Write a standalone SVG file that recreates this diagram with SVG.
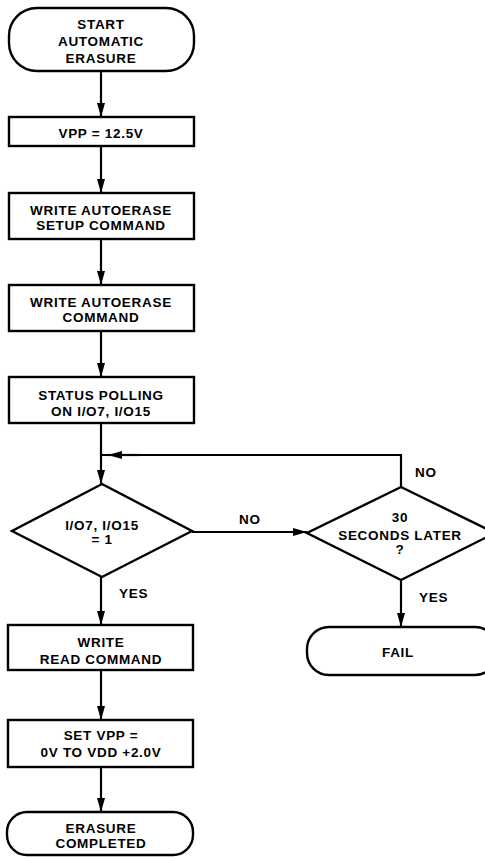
<svg xmlns="http://www.w3.org/2000/svg" width="485" height="857" viewBox="0 0 485 857">
<defs>
<style>
.s{fill:#fff;stroke:#000;stroke-width:2.4}
.c{fill:none;stroke:#000;stroke-width:2.2}
.t{font-family:"Liberation Sans",Arial,sans-serif;font-weight:bold;font-size:13.5px;letter-spacing:0.7px;fill:#000;text-anchor:middle}
.l{font-family:"Liberation Sans",Arial,sans-serif;font-weight:bold;font-size:13.5px;letter-spacing:0.7px;fill:#000}
</style>
<marker id="ah" viewBox="0 0 14 8" refX="14" refY="4" markerWidth="14" markerHeight="8" markerUnits="userSpaceOnUse" orient="auto">
<path d="M0,0 L14,4 L0,8 Z" fill="#000"/>
</marker>
</defs>
<rect width="485" height="857" fill="#fff"/>
<g id="connectors">
<line class="c" x1="101" y1="71" x2="101" y2="117" marker-end="url(#ah)"/>
<line class="c" x1="101" y1="146" x2="101" y2="193" marker-end="url(#ah)"/>
<line class="c" x1="101" y1="239" x2="101" y2="285" marker-end="url(#ah)"/>
<line class="c" x1="101" y1="331" x2="101" y2="377" marker-end="url(#ah)"/>
<line class="c" x1="101" y1="423" x2="101" y2="484" marker-end="url(#ah)"/>
<polyline class="c" points="401,487 401,455 101,455"/>
<line class="c" x1="140" y1="455" x2="108" y2="455" marker-end="url(#ah)"/>
<line class="c" x1="192" y1="532" x2="307" y2="532" marker-end="url(#ah)"/>
<line class="c" x1="101" y1="577" x2="101" y2="625" marker-end="url(#ah)"/>
<line class="c" x1="401" y1="580" x2="401" y2="627" marker-end="url(#ah)"/>
<line class="c" x1="101" y1="670" x2="101" y2="720" marker-end="url(#ah)"/>
<line class="c" x1="101" y1="767" x2="101" y2="812" marker-end="url(#ah)"/>
<text class="l" x="415" y="477">NO</text>
<text class="l" x="239" y="524">NO</text>
<text class="l" x="119" y="598">YES</text>
<text class="l" x="419" y="602">YES</text>
</g>
<g id="start">
<rect class="s" x="9" y="8" width="185" height="63" rx="28" ry="28"/>
<text class="t" x="101" y="29">START</text>
<text class="t" x="101" y="46">AUTOMATIC</text>
<text class="t" x="101" y="63">ERASURE</text>
</g>
<g id="vpp">
<rect class="s" x="9" y="117" width="185" height="29"/>
<text class="t" x="101" y="138">VPP = 12.5V</text>
</g>
<g id="setup">
<rect class="s" x="9" y="193" width="185" height="46"/>
<text class="t" x="101" y="215">WRITE AUTOERASE</text>
<text class="t" x="101" y="230">SETUP COMMAND</text>
</g>
<g id="autoerase">
<rect class="s" x="9" y="285" width="185" height="46"/>
<text class="t" x="101" y="307">WRITE AUTOERASE</text>
<text class="t" x="101" y="322">COMMAND</text>
</g>
<g id="polling">
<rect class="s" x="9" y="377" width="185" height="46"/>
<text class="t" x="101" y="400">STATUS POLLING</text>
<text class="t" x="101" y="416">ON I/O7, I/O15</text>
</g>
<g id="check">
<polygon class="s" points="102,484 192,531 102,577 12,531"/>
<text class="t" x="102" y="530">I/O7, I/O15</text>
<text class="t" x="102" y="544">= 1</text>
</g>
<g id="timeout">
<polygon class="s" points="401,487 495,533 401,580 307,533"/>
<text class="t" x="400" y="522">30</text>
<text class="t" x="400" y="540">SECONDS LATER</text>
<text class="t" x="400" y="554">?</text>
</g>
<g id="fail">
<rect class="s" x="307" y="627" width="190" height="48" rx="22" ry="22"/>
<text class="t" x="398" y="657">FAIL</text>
</g>
<g id="read">
<rect class="s" x="8" y="625" width="185" height="45"/>
<text class="t" x="101" y="647">WRITE</text>
<text class="t" x="101" y="664">READ COMMAND</text>
</g>
<g id="setvpp">
<rect class="s" x="8" y="720" width="185" height="47"/>
<text class="t" x="101" y="740">SET VPP =</text>
<text class="t" x="101" y="757">0V TO VDD +2.0V</text>
</g>
<g id="end">
<rect class="s" x="7" y="812" width="186" height="43" rx="20" ry="20"/>
<text class="t" x="101" y="833">ERASURE</text>
<text class="t" x="101" y="848">COMPLETED</text>
</g>
</svg>
